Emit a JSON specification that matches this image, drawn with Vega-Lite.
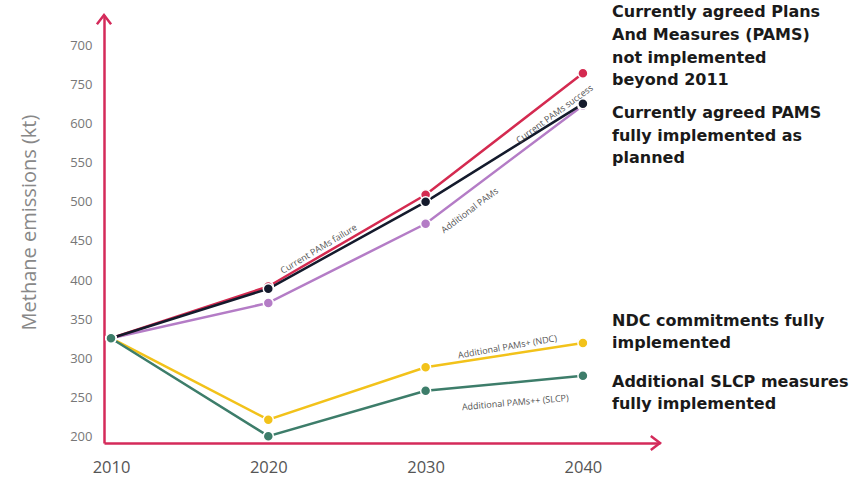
{
  "$schema": "https://vega.github.io/schema/vega-lite/v6.json",
  "autosize": "none",
  "width": 556,
  "height": 428,
  "padding": {"left": 104, "top": 15, "right": 189, "bottom": 38},
  "background": "white",
  "config": {"view": {"stroke": null}},
  "datasets": {
    "series": [
      {"series": "Additional PAMs", "year": 2010, "value": 326},
      {"series": "Additional PAMs", "year": 2020, "value": 371},
      {"series": "Additional PAMs", "year": 2030, "value": 472},
      {"series": "Additional PAMs", "year": 2040, "value": 623},
      {"series": "Current PAMs failure", "year": 2010, "value": 326},
      {"series": "Current PAMs failure", "year": 2020, "value": 392},
      {"series": "Current PAMs failure", "year": 2030, "value": 509},
      {"series": "Current PAMs failure", "year": 2040, "value": 664},
      {"series": "Current PAMs success", "year": 2010, "value": 326},
      {"series": "Current PAMs success", "year": 2020, "value": 389},
      {"series": "Current PAMs success", "year": 2030, "value": 500},
      {"series": "Current PAMs success", "year": 2040, "value": 625},
      {"series": "Additional PAMs+ (NDC)", "year": 2010, "value": 326},
      {"series": "Additional PAMs+ (NDC)", "year": 2020, "value": 222},
      {"series": "Additional PAMs+ (NDC)", "year": 2030, "value": 289},
      {"series": "Additional PAMs+ (NDC)", "year": 2040, "value": 320},
      {"series": "Additional PAMs++ (SLCP)", "year": 2010, "value": 326},
      {"series": "Additional PAMs++ (SLCP)", "year": 2020, "value": 201},
      {"series": "Additional PAMs++ (SLCP)", "year": 2030, "value": 259},
      {"series": "Additional PAMs++ (SLCP)", "year": 2040, "value": 278}
    ],
    "lineLabels": [
      {"label": "Current PAMs failure", "year": 2023.2, "value": 440, "angle": -31},
      {"label": "Additional PAMs", "year": 2032.8, "value": 489, "angle": -37},
      {"label": "Current PAMs success", "year": 2038.2, "value": 612, "angle": -36},
      {"label": "Additional PAMs+ (NDC)", "year": 2035.2, "value": 315, "angle": -10},
      {"label": "Additional PAMs++ (SLCP)", "year": 2035.7, "value": 244, "angle": -5}
    ],
    "notes": [
      {"text": "Currently agreed  Plans", "year": 2041.85, "value": 742.1},
      {"text": "And Measures (PAMS)", "year": 2041.85, "value": 712.8},
      {"text": "not implemented", "year": 2041.85, "value": 683.4},
      {"text": "beyond 2011", "year": 2041.85, "value": 655.4},
      {"text": "Currently agreed  PAMS", "year": 2041.85, "value": 613.3},
      {"text": "fully implemented as", "year": 2041.85, "value": 583.9},
      {"text": "planned", "year": 2041.85, "value": 555.9},
      {"text": "NDC commitments  fully", "year": 2041.85, "value": 348.0},
      {"text": "implemented", "year": 2041.85, "value": 319.9},
      {"text": "Additional SLCP measures", "year": 2041.85, "value": 270.2},
      {"text": "fully implemented", "year": 2041.85, "value": 242.1}
    ]
  },
  "layer": [
    {
      "data": {"name": "series"},
      "mark": {"type": "line", "strokeWidth": 2.5},
      "encoding": {
        "x": {
          "field": "year", "type": "quantitative",
          "scale": {"domain": [2009.555, 2044.9], "nice": false, "zero": false},
          "axis": {
            "values": [2010, 2020, 2030, 2040], "format": "d", "title": null,
            "grid": false, "ticks": false, "domainColor": "#d42a5a", "domainWidth": 2.5,
            "labelFont": "Open Sans", "labelFontSize": 16.5, "labelColor": "#555555", "labelPadding": 16
          }
        },
        "y": {
          "field": "value", "type": "quantitative",
          "scale": {"domain": [192.3, 738.3], "nice": false, "zero": false},
          "axis": {
            "values": [200, 250, 300, 350, 400, 450, 500, 550, 600, 650, 700],
            "labelExpr": "datum.value == 650 ? '750' : datum.label",
            "title": "Methane emissions (kt)", "titleFont": "Open Sans", "titleFontSize": 20,
            "titleFontWeight": "normal", "titleColor": "#888888", "titlePadding": 30,
            "titleY": 207,
            "grid": false, "ticks": false, "domainColor": "#d42a5a", "domainWidth": 2.5,
            "labelFont": "Open Sans", "labelFontSize": 13, "labelColor": "#777777", "labelPadding": 12
          }
        },
        "color": {
          "field": "series", "type": "nominal", "legend": null,
          "scale": {
            "domain": ["Additional PAMs", "Current PAMs failure", "Current PAMs success", "Additional PAMs+ (NDC)", "Additional PAMs++ (SLCP)"],
            "range": ["#b47cc6", "#d42a50", "#141a2c", "#f2c21a", "#3d7d6a"]
          }
        },
        "detail": {"field": "series"}
      }
    },
    {
      "data": {"name": "series"},
      "mark": {"type": "point", "filled": true, "size": 100, "opacity": 1, "stroke": "white", "strokeWidth": 1.5},
      "encoding": {
        "x": {"field": "year", "type": "quantitative"},
        "y": {"field": "value", "type": "quantitative"},
        "color": {"field": "series", "type": "nominal", "legend": null}
      }
    },
    {
      "data": {"name": "lineLabels"},
      "mark": {"type": "text", "font": "Open Sans", "fontSize": 9, "color": "#555555"},
      "encoding": {
        "x": {"field": "year", "type": "quantitative"},
        "y": {"field": "value", "type": "quantitative"},
        "text": {"field": "label"},
        "angle": {"field": "angle", "type": "quantitative", "scale": null}
      }
    },
    {
      "data": {"name": "notes"},
      "mark": {"type": "text", "font": "DejaVu Sans", "fontSize": 16, "fontWeight": "bold", "color": "#1a1a1a", "align": "left", "baseline": "middle"},
      "encoding": {
        "x": {"field": "year", "type": "quantitative"},
        "y": {"field": "value", "type": "quantitative"},
        "text": {"field": "text"}
      }
    },
    {
      "data": {"values": [{}]},
      "mark": {"type": "point", "shape": "M-1,1.3 L0,0 L1,1.3", "filled": false, "size": 200, "stroke": "#d42a5a", "strokeWidth": 2.5, "opacity": 1},
      "encoding": {
        "x": {"datum": 2009.555, "type": "quantitative"},
        "y": {"datum": 738.3, "type": "quantitative"}
      }
    },
    {
      "data": {"values": [{}]},
      "mark": {"type": "point", "shape": "M-1.3,-1 L0,0 L-1.3,1", "filled": false, "size": 200, "stroke": "#d42a5a", "strokeWidth": 2.5, "opacity": 1},
      "encoding": {
        "x": {"datum": 2044.9, "type": "quantitative"},
        "y": {"datum": 192.3, "type": "quantitative"}
      }
    }
  ]
}
